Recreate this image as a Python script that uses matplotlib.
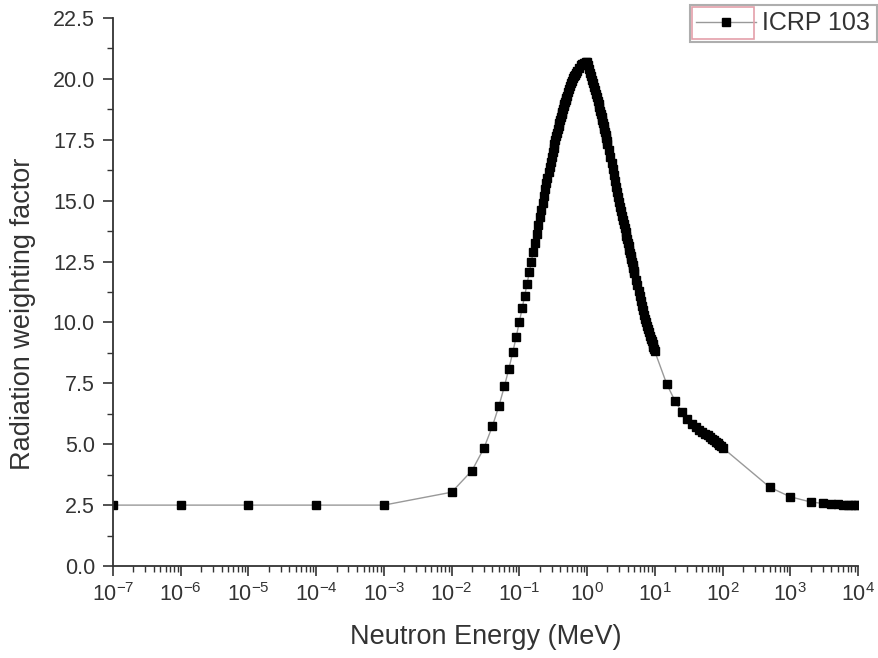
import matplotlib
matplotlib.use("Agg")
import math
import matplotlib.pyplot as plt
from matplotlib.patches import Rectangle
from matplotlib.ticker import LogLocator, MultipleLocator, FormatStrFormatter, FuncFormatter

plt.rcParams['font.family'] = ['Liberation Sans', 'DejaVu Sans']
plt.rcParams['mathtext.fontset'] = 'custom'
plt.rcParams['mathtext.rm'] = 'Liberation Sans'
plt.rcParams['mathtext.it'] = 'Liberation Sans'

# ---- data ----
energy_low = [1e-7, 1e-6, 1e-5, 1e-4, 1e-3]
wr_low = [2.5, 2.5, 2.5, 2.5, 2.5]

energy_rise = [0.01, 0.02, 0.03, 0.04, 0.05, 0.06, 0.07, 0.08, 0.09, 0.10,
               0.11, 0.12, 0.13, 0.14, 0.15, 0.16, 0.17, 0.18, 0.19, 0.20,
               0.21, 0.22, 0.23, 0.24, 0.25, 0.26, 0.27, 0.28, 0.29, 0.30,
               0.31, 0.32, 0.33, 0.34, 0.35, 0.36, 0.37, 0.38, 0.39, 0.40,
               0.41, 0.42, 0.43, 0.44, 0.45, 0.46, 0.47, 0.48, 0.49, 0.50,
               0.52, 0.54, 0.56, 0.58, 0.60, 0.62, 0.64, 0.66, 0.68, 0.70,
               0.75, 0.80, 0.85, 0.90, 0.95, 1.00]
wr_rise = [3.03, 3.92, 4.84, 5.74, 6.58, 7.37, 8.10, 8.78, 9.42, 10.02,
           10.58, 11.10, 11.59, 12.06, 12.49, 12.90, 13.28, 13.65, 13.99, 14.32,
           14.63, 14.92, 15.20, 15.46, 15.71, 15.95, 16.18, 16.39, 16.60, 16.79,
           16.98, 17.16, 17.33, 17.49, 17.65, 17.79, 17.94, 18.07, 18.20, 18.32,
           18.44, 18.55, 18.66, 18.77, 18.87, 18.96, 19.05, 19.14, 19.22, 19.30,
           19.45, 19.58, 19.71, 19.82, 19.92, 20.02, 20.10, 20.18, 20.25, 20.32,
           20.45, 20.55, 20.62, 20.67, 20.69, 20.70]

energy_fall = [1.04, 1.08, 1.12, 1.16, 1.20, 1.24, 1.28, 1.32, 1.36, 1.40,
               1.44, 1.48, 1.52, 1.56, 1.60, 1.64, 1.68, 1.72, 1.76, 1.80,
               1.84, 1.88, 1.92, 1.96, 2.00,
               2.1, 2.2, 2.3, 2.4, 2.5, 2.6, 2.7, 2.8, 2.9, 3.0,
               3.1, 3.2, 3.3, 3.4, 3.5, 3.6, 3.7, 3.8, 3.9, 4.0,
               4.1, 4.2, 4.3, 4.4, 4.5, 4.6, 4.7, 4.8, 4.9, 5.0,
               5.25, 5.5, 5.75, 6.0, 6.25, 6.5, 6.75, 7.0, 7.25, 7.5,
               7.75, 8.0, 8.25, 8.5, 8.75, 9.0, 9.25, 9.5, 9.75, 10.0]
wr_fall = [20.55, 20.40, 20.25, 20.11, 19.96, 19.82, 19.67, 19.53, 19.39, 19.25,
           19.11, 18.97, 18.83, 18.70, 18.57, 18.44, 18.31, 18.18, 18.06, 17.93,
           17.81, 17.69, 17.57, 17.46, 17.34,
           17.06, 16.79, 16.53, 16.28, 16.04, 15.81, 15.58, 15.37, 15.16, 14.96,
           14.76, 14.57, 14.39, 14.22, 14.04, 13.88, 13.72, 13.56, 13.41, 13.27,
           13.13, 12.99, 12.86, 12.73, 12.60, 12.48, 12.36, 12.25, 12.13, 12.03,
           11.76, 11.52, 11.29, 11.07, 10.87, 10.68, 10.50, 10.32, 10.16, 10.01,
           9.86, 9.72, 9.59, 9.46, 9.34, 9.22, 9.11, 9.01, 8.91, 8.81]

energy_high = [15, 20, 25, 30, 35, 40, 45, 50, 55, 60, 65, 70, 75, 80, 85, 90, 95, 100,
               500, 1000, 2000, 3000, 4000, 5000, 6000, 7000, 8000, 9000, 10000]
wr_high = [7.47, 6.76, 6.33, 6.04, 5.84, 5.69, 5.58, 5.50, 5.43, 5.36, 5.29, 5.22, 5.16,
           5.09, 5.03, 4.97, 4.91, 4.86,
           3.23, 2.84, 2.63, 2.57, 2.54, 2.53, 2.52, 2.52, 2.51, 2.51, 2.51]

energy = energy_low + energy_rise + energy_fall + energy_high
wr = wr_low + wr_rise + wr_fall + wr_high

series_label = "ICRP 103"
x_label = "Neutron Energy (MeV)"
y_label = "Radiation weighting factor"

# ---- figure ----
W, H = 879, 658
fig = plt.figure(figsize=(W / 100, H / 100), dpi=100)
ax = fig.add_axes([113 / W, 1 - 566 / H, (858 - 113) / W, (566 - 18) / H])

ax.plot(energy, wr, color='#999999', linewidth=1.0, marker='s', markersize=5.3,
        markerfacecolor='black', markeredgecolor='black', label=series_label)

ax.set_xscale('log')
ax.set_xlim(1e-7, 1e4)
ax.set_ylim(0, 22.5)

ax.xaxis.set_major_locator(LogLocator(base=10, numticks=20))
ax.xaxis.set_minor_locator(LogLocator(base=10, subs=[2, 3, 4, 5, 6, 7, 8, 9], numticks=20))


def sci(v, pos):
    e = int(round(math.log10(v)))
    return r'$\mathrm{10^{%d}}$' % e


ax.xaxis.set_major_formatter(FuncFormatter(sci))
ax.yaxis.set_major_locator(MultipleLocator(2.5))
ax.yaxis.set_minor_locator(MultipleLocator(1.25))
ax.yaxis.set_major_formatter(FormatStrFormatter('%.1f'))

for s in ['top', 'right']:
    ax.spines[s].set_visible(False)
for s in ['left', 'bottom']:
    ax.spines[s].set_linewidth(1.3)
    ax.spines[s].set_color('#333333')

ax.tick_params(axis='both', which='major', direction='out', length=7, width=1.2,
               color='#333333', labelsize=15.5, labelcolor='#333333')
ax.tick_params(axis='both', which='minor', direction='out', length=4, width=1.0,
               color='#333333')
ax.tick_params(axis='x', which='major', pad=5)
ax.tick_params(axis='y', which='major', pad=6)

ax.set_xlabel(x_label, fontsize=19.5, color='#333333')
ax.set_ylabel(y_label, fontsize=19.5, color='#333333')
ax.xaxis.set_label_coords(0.5, -0.106)
ax.yaxis.set_label_coords(-0.104, 0.46)

leg = fig.legend(loc='upper left', bbox_to_anchor=(690 / W, 1 - 5 / H),
                 fontsize=18, frameon=True, fancybox=False, handlelength=2.4,
                 borderpad=0.25, handletextpad=0.25, borderaxespad=0)
leg.get_frame().set_edgecolor('#9a9a9a')
leg.get_frame().set_linewidth(1.5)
for t in leg.get_texts():
    t.set_color('#333333')

# pinkish box around the legend symbol (Origin style)
box = Rectangle((692 / W, 1 - 39 / H), (754 - 692) / W, (39 - 7) / H,
                transform=fig.transFigure, fill=False,
                edgecolor='#e4a0aa', linewidth=1.2, zorder=10)
fig.add_artist(box)

fig.savefig('out.png', dpi=100)
